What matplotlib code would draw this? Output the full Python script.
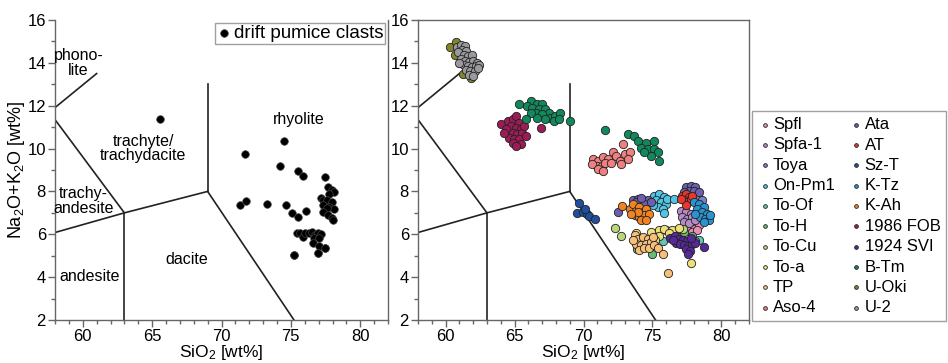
import numpy as np
import matplotlib
matplotlib.use("Agg")
import matplotlib.pyplot as plt
from matplotlib.ticker import MultipleLocator

plt.rcParams['font.family'] = ['Liberation Sans', 'DejaVu Sans']
plt.rcParams['mathtext.fontset'] = 'custom'
plt.rcParams['mathtext.rm'] = 'Liberation Sans'
plt.rcParams['mathtext.it'] = 'Liberation Sans'

# ---- left panel: drift pumice clasts ----
drift_x = [65.6, 71.67, 74.54, 74.2, 75.5, 75.87, 77.47, 71.33, 71.74, 73.25,
           74.65, 75.08, 75.5, 76.09, 75.2, 76.95, 77.47,
           77.71, 77.95, 78.14, 77.78, 77.19, 77.35, 77.59, 77.99, 77.28, 77.78,
           78.14, 77.59, 77.35, 77.71, 77.99, 78.07,
           75.44, 75.63, 75.85, 76.04, 76.28, 76.52, 76.71, 76.95, 77.19, 76.64,
           77.05, 76.59, 77.05, 77.47, 76.95, 75.23]
drift_y = [11.36, 9.75, 10.34, 9.18, 8.96, 8.70, 8.67, 7.38, 7.57, 7.40,
           7.37, 6.98, 6.82, 7.08, 5.04, 5.12, 5.38,
           8.19, 8.09, 7.99, 7.86, 7.71, 7.60, 7.60, 7.49, 7.37, 7.29,
           7.16, 7.21, 7.06, 6.90, 6.74, 6.67,
           6.05, 6.08, 5.87, 6.05, 6.08, 6.12, 5.97, 6.05, 6.00, 5.85,
           5.81, 5.61, 5.47, 5.35, 5.12, 5.02]

# ---- right panel: reference tephras ----
spfl_x = [77.64, 78.00, 78.36, 77.88, 78.24]
spfl_y = [6.34, 6.26, 6.42, 6.11, 6.19]
spfa1_x = [77.04, 77.40, 77.76, 77.16, 77.52, 77.88, 77.28, 77.64, 78.12]
spfa1_y = [7.11, 7.04, 6.96, 6.80, 6.73, 6.80, 6.57, 6.54, 6.65]
toya_x = [77.5, 77.9, 78.3, 78.6, 74.3, 74.6, 77.2]
toya_y = [7.9, 7.85, 7.75, 7.6, 7.55, 7.45, 7.7]
onpm1_x = [75.13, 75.49, 75.85, 75.25, 75.61, 75.97, 75.37, 75.73, 75.01, 76.09, 76.56, 75.85]
onpm1_y = [7.81, 7.89, 7.73, 7.58, 7.50, 7.42, 7.27, 7.19, 7.35, 7.65, 7.64, 6.98]
toof_x = [76.3, 77.0, 75.8, 78.4]
toof_y = [6.15, 5.95, 5.7, 5.75]
toh_x = [76.8, 77.3, 78.1, 73.9, 75.0, 77.9, 76.4, 74.06]
toh_y = [6.2, 6.1, 5.7, 5.3, 5.1, 5.9, 6.0, 5.34]
tocu_x = [72.27, 72.70, 76.0, 77.2, 76.7, 75.3]
tocu_y = [6.30, 5.93, 6.2, 6.25, 5.9, 6.05]
toa_x = [75.49, 75.85, 76.40, 76.9, 74.9, 75.5, 76.2, 73.8, 77.76, 75.2]
toa_y = [6.19, 6.27, 6.22, 6.30, 6.12, 5.9, 6.05, 6.05, 4.67, 5.75]
tp_x = [73.70, 73.94, 74.29, 74.65, 73.82, 74.17, 74.53, 74.89, 74.05, 74.41,
        74.77, 75.13, 75.37, 75.73, 73.58, 75.01, 76.14]
tp_y = [5.96, 5.80, 5.88, 5.80, 5.57, 5.49, 5.57, 5.65, 5.26, 5.34,
        5.34, 5.49, 5.34, 5.10, 5.72, 5.88, 4.18]
aso4_x = [72.86, 70.71, 71.07, 71.43, 71.78, 70.95, 71.31, 71.55, 70.59, 71.07,
          71.43, 72.14, 72.38, 72.62, 72.98, 73.34, 73.22, 72.74, 72.02]
aso4_y = [10.20, 9.51, 9.43, 9.59, 9.51, 9.20, 9.20, 9.35, 9.28, 9.05,
          8.97, 9.82, 9.66, 9.43, 9.74, 9.82, 9.51, 9.28, 9.35]
ata_x = [72.50, 73.58, 73.94, 74.29, 74.65, 73.82, 74.41, 74.89, 74.17,
         77.40, 77.76, 78.12, 77.64, 78.00, 78.36, 77.28]
ata_y = [7.04, 7.61, 7.65, 7.58, 7.62, 7.50, 7.42, 7.50, 7.69,
         8.20, 8.27, 8.20, 8.04, 8.04, 7.96, 7.96]
at_x = [77.16, 77.40, 77.64, 77.28, 77.52, 77.76, 77.40, 77.04, 77.88]
at_y = [7.81, 7.89, 7.73, 7.58, 7.50, 7.65, 7.35, 7.65, 7.81]
szt_x = [69.70, 69.51, 69.94, 70.23, 70.40, 70.83, 70.11]
szt_y = [7.47, 7.01, 7.04, 6.93, 6.84, 6.70, 7.19]
ktz_x = [78.00, 78.36, 78.71, 78.24, 78.60, 78.95, 78.47, 78.83, 79.07, 79.19, 78.12, 78.71]
ktz_y = [7.50, 7.42, 7.27, 7.19, 7.04, 6.96, 6.80, 6.73, 6.65, 6.88, 6.96, 6.57]
kah_x = [72.79, 73.34, 73.58, 73.82, 74.05, 74.29, 74.53, 73.70, 74.05, 74.41,
         74.77, 74.17, 74.53, 73.94, 73.46]
kah_y = [7.32, 7.19, 7.42, 7.11, 7.27, 7.04, 7.19, 6.88, 6.80, 6.88,
         6.96, 6.65, 6.65, 7.04, 6.96]
fob_x = [64.02, 64.50, 64.86, 65.09, 65.33, 64.74, 65.09, 65.45, 64.38, 64.86,
         65.21, 65.57, 65.69, 64.62, 64.98, 65.33, 64.86, 64.26, 65.81, 65.45,
         65.09, 66.89]
fob_y = [11.13, 11.29, 11.36, 11.52, 11.21, 11.05, 10.98, 10.90, 10.90, 10.75,
         10.67, 10.75, 11.05, 10.51, 10.44, 10.44, 10.28, 10.75, 10.59, 10.20,
         10.13, 10.98]
svi_x = [76.3, 76.6, 76.9, 77.2, 77.5, 76.7, 77.0, 77.3, 77.6, 77.9,
         77.4, 77.7, 77.6, 78.1, 78.75, 76.5, 77.8]
svi_y = [5.85, 5.9, 5.8, 5.75, 5.7, 5.6, 5.55, 5.5, 5.45, 5.55,
         5.3, 5.2, 5.1, 5.6, 5.40, 5.75, 5.85]
btm_x = [65.33, 66.17, 66.65, 67.01, 65.93, 66.29, 66.77, 67.24, 67.48, 66.53,
         67.01, 66.17, 67.60, 67.96, 68.32, 67.24, 67.84, 68.20, 65.81, 66.65,
         69.04,
         71.55, 73.22, 73.65, 73.93, 74.53, 75.13, 74.17, 74.65, 75.13, 75.37,
         74.89, 75.49, 74.41]
btm_y = [12.09, 12.21, 12.10, 12.06, 11.98, 11.90, 11.86, 11.83, 11.67, 11.67,
         11.60, 11.67, 11.44, 11.52, 11.67, 11.36, 11.29, 11.39, 11.40, 11.44,
         11.29,
         10.87, 10.67, 10.59, 10.36, 10.28, 10.36, 10.05, 9.97, 9.97, 9.85,
         9.66, 9.43, 9.82]
uoki_x = [60.31, 60.79, 61.03, 61.03, 61.27, 61.87, 60.67]
uoki_y = [14.76, 14.99, 14.38, 13.99, 13.49, 13.29, 14.38]
u2_x = [60.8, 61.1, 61.4, 61.2, 61.5, 60.9, 61.3, 61.6, 61.9, 61.1, 61.4, 61.7, 62.0,
        62.3, 61.3, 61.6, 61.9, 62.2, 62.45, 61.5, 61.8, 62.1, 61.7, 62.0, 62.35, 61.0]
u2_y = [14.75, 14.85, 14.8, 14.6, 14.55, 14.5, 14.35, 14.3, 14.35, 14.2, 14.1, 14.05, 14.1,
        14.0, 13.9, 13.85, 13.8, 13.85, 13.9, 13.65, 13.6, 13.6, 13.45, 13.4, 13.75, 14.0]

names = ['Spfl', 'Spfa-1', 'Toya', 'On-Pm1', 'To-Of', 'To-H', 'To-Cu', 'To-a', 'TP', 'Aso-4',
         'Ata', 'AT', 'Sz-T', 'K-Tz', 'K-Ah', '1986 FOB', '1924 SVI', 'B-Tm', 'U-Oki', 'U-2']
colors = ['#ea8fb9', '#b58bc6', '#7c82c6', '#4fc6e6', '#66c7b9', '#6abb76', '#b9d77d',
          '#f0e07b', '#f8bf7a', '#ef7f80', '#6b5fae', '#e8372d', '#1f4f9e', '#2a94d2',
          '#f08423', '#9c1c56', '#57289a', '#11895c', '#84842a', '#9a9a9e']
xs = [spfl_x, spfa1_x, toya_x, onpm1_x, toof_x, toh_x, tocu_x, toa_x, tp_x, aso4_x,
      ata_x, at_x, szt_x, ktz_x, kah_x, fob_x, svi_x, btm_x, uoki_x, u2_x]
ys = [spfl_y, spfa1_y, toya_y, onpm1_y, toof_y, toh_y, tocu_y, toa_y, tp_y, aso4_y,
      ata_y, at_y, szt_y, ktz_y, kah_y, fob_y, svi_y, btm_y, uoki_y, u2_y]

# TAS field boundaries
tas_lines = [
    ([57.6, 63.0], [11.7, 7.0]),
    ([57.6, 61.0], [11.7, 13.5]),
    ([57.0, 63.0, 69.0], [5.9, 7.0, 8.0]),
    ([63.0, 63.0], [7.0, 0.0]),
    ([69.0, 69.0], [8.0, 13.0]),
    ([69.0, 77.3], [8.0, 0.0]),
]
field_labels = [
    (59.7, 14.0, 'phono-\nlite'),
    (64.35, 10.0, 'trachyte/\ntrachydacite'),
    (75.56, 11.36, 'rhyolite'),
    (60.05, 7.55, 'trachy-\nandesite'),
    (60.46, 4.03, 'andesite'),
    (67.5, 4.84, 'dacite'),
]

fig = plt.figure(figsize=(9.48, 3.63), dpi=100)
ax1 = fig.add_axes([55 / 948, 1 - 320 / 363, 333 / 948, 300 / 363])
ax2 = fig.add_axes([418 / 948, 1 - 320 / 363, 331 / 948, 300 / 363])

spine_c = '#666666'
for ax in (ax1, ax2):
    for xl, yl in tas_lines:
        ax.plot(xl, yl, color='#222222', lw=1.2, zorder=1)
    ax.set_xlim(58, 82)
    ax.set_ylim(2, 16)
    ax.xaxis.set_major_locator(MultipleLocator(5))
    ax.xaxis.set_minor_locator(MultipleLocator(1))
    ax.yaxis.set_major_locator(MultipleLocator(2))
    ax.yaxis.set_minor_locator(MultipleLocator(1))
    ax.tick_params(which='major', direction='out', length=5, width=1, color=spine_c,
                   labelsize=12, pad=1.5)
    ax.tick_params(which='minor', direction='out', length=3, width=1, color=spine_c)
    for s in ax.spines.values():
        s.set_color(spine_c)
        s.set_linewidth(1)
    ax.set_xlabel('SiO$_2$ [wt%]', fontsize=12.5, labelpad=-0.5)

ax1.spines['top'].set_visible(False)

for tx, ty, t in field_labels:
    ax1.text(tx, ty, t, ha='center', va='center', fontsize=11.5, linespacing=0.95)

ax1.scatter(drift_x, drift_y, s=30, color='black', edgecolors='#444444', linewidths=0.5,
            zorder=3, label='drift pumice clasts')
ax1.legend(loc='upper right', fontsize=13.5, frameon=True, fancybox=False, edgecolor='#888888',
           borderpad=0.1, handletextpad=0.2, handlelength=0.7, borderaxespad=0.15,
           markerscale=1.0)
ax1.set_ylabel('Na$_2$O+K$_2$O [wt%]', fontsize=13, labelpad=0)

for x, y, c, n in zip(xs, ys, colors, names):
    ax2.scatter(x, y, s=36, color=c, edgecolors='#222222', linewidths=0.6, zorder=3, label=n)

handles, labels = ax2.get_legend_handles_labels()
fig.legend(handles, labels, loc='lower left', bbox_to_anchor=(752 / 948, 1 - 321 / 363),
           ncol=2, fontsize=12, frameon=True, fancybox=False, edgecolor='#888888',
           markerscale=0.45, handletextpad=0.1, columnspacing=0.9, labelspacing=0.32,
           borderpad=0.35, handlelength=0.8, borderaxespad=0)

fig.savefig('out.png', dpi=100)
